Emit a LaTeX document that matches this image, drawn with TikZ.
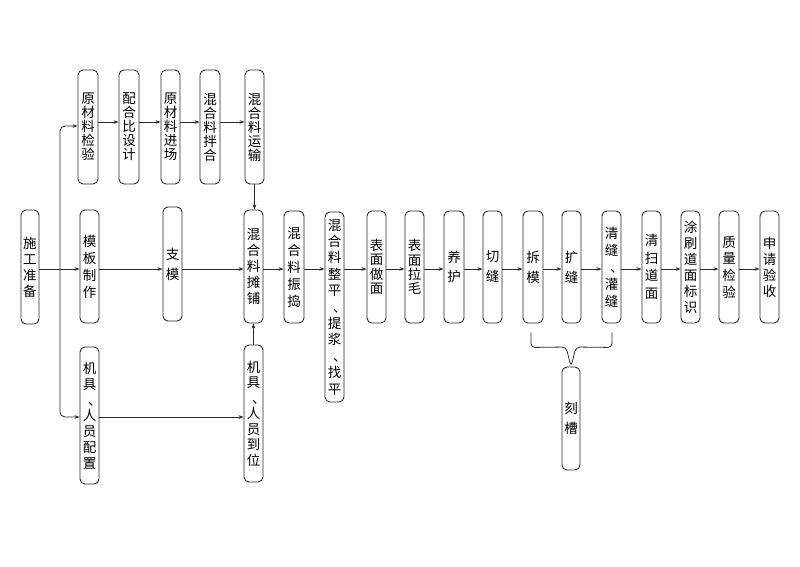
\documentclass[tikz,border=0pt]{standalone}
\usepackage{fontspec}
\newfontfamily\cjk{Noto Sans CJK SC}
\usetikzlibrary{arrows.meta,calc}
\definecolor{ln}{HTML}{2A2A2A}
\newcommand{\dun}{\hbox to 1em{\hskip0.4em\relax 、\hss}}
\tikzset{
  box/.style={draw=ln, line width=0.9pt, rounded corners=5pt, minimum width=19pt, inner sep=0pt, align=center, text=black},
  vs/.style={font=\cjk\fontsize{13.5}{#1}\selectfont},
  vs/.default=16,
  arr/.style={draw=ln, line width=0.8pt, -{Stealth[length=5pt,width=3.6pt]}},
  plain/.style={draw=ln, line width=0.8pt}
}
\begin{document}
\begin{tikzpicture}[x=1pt,y=-1pt]
\useasboundingbox[fill=white] (0,0) rectangle (800,566);
% main row
\node[box,vs=16,minimum width=18pt,minimum height=114pt] (zb) at (30,267) {施\\工\\准\\备};
\node[box,vs=17,minimum height=113pt] (mb) at (89.5,266.5) {模\\板\\制\\作};
\node[box,vs=20,minimum height=114pt] (zm) at (172.5,264) {支\\模};
\node[box,vs=16,minimum height=113pt] (tp) at (253.5,266.5) {混\\合\\料\\摊\\铺};
\node[box,vs=17,minimum width=20pt,minimum height=112pt] (zd) at (294,267) {混\\合\\料\\振\\捣};
\node[box,vs=16.4,minimum height=190pt] (zp) at (334.5,307) {混\\合\\料\\整\\平\\\dun\\提\\浆\\\dun\\找\\平};
\node[box,vs=14.3,minimum height=112pt] (zmian) at (376.5,267) {表\\面\\做\\面};
\node[box,vs=14.3,minimum height=112pt] (lm) at (414.5,267) {表\\面\\拉\\毛};
\node[box,vs=19,minimum width=20pt,minimum height=112pt] (yh) at (454,267) {养\\护};
\node[box,vs=20,minimum height=112pt] (qf) at (492.5,267) {切\\缝};
\node[box,vs=20,minimum width=20pt,minimum height=112pt] (cm) at (533,267) {拆\\模};
\node[box,vs=20,minimum height=112pt] (kf) at (571.5,267) {扩\\缝};
\node[box,vs=17,minimum height=112pt] (qgf) at (611.5,267) {清\\缝\\\dun\\灌\\缝};
\node[box,vs=17.7,minimum height=112pt] (qs) at (651.5,267) {清\\扫\\道\\面};
\node[box,vs=16,minimum height=112pt] (ts) at (690.5,267) {涂\\刷\\道\\面\\标\\识};
\node[box,vs=16.6,minimum width=20pt,minimum height=112pt] (zl) at (729,267) {质\\量\\检\\验};
\node[box,vs=16,minimum height=112pt] (sq) at (769.5,267) {申\\请\\验\\收};
\node[box,vs=20,minimum width=18pt,minimum height=103pt] (kc) at (571,418.5) {刻\\槽};
% top row
\node[box,vs=14,minimum width=20pt,minimum height=114pt] (yj) at (88,127) {原\\材\\料\\检\\验};
\node[box,vs=14,minimum width=20pt,minimum height=114pt] (ph) at (129,127) {配\\合\\比\\设\\计};
\node[box,vs=14,minimum height=114pt] (yc) at (170.5,127) {原\\材\\料\\进\\场};
\node[box,vs=14,minimum width=20pt,minimum height=114pt] (bh) at (210,127) {混\\合\\料\\拌\\合};
\node[box,vs=14,minimum height=114pt] (ys) at (254.5,127) {混\\合\\料\\运\\输};
% bottom row
\node[box,vs=15.8,minimum height=137pt] (jp) at (89.5,415.5) {机\\具\\\dun\\人\\员\\配\\置};
\node[box,vs=15.5,minimum height=137pt] (jd) at (253.5,413.5) {机\\具\\\dun\\人\\员\\到\\位};
% helper coordinates
\coordinate (m) at (0,269);
\coordinate (t) at (0,122);
\coordinate (b) at (0,417);
\coordinate (sp) at (60,269);
% main arrows
\draw[arr] (zb.east |- m) -- (mb.west |- m);
\draw[arr] (mb.east |- m) -- (zm.west |- m);
\draw[arr] (zm.east |- m) -- (tp.west |- m);
\draw[arr] (tp.east |- m) -- (zd.west |- m);
\draw[arr] (zd.east |- m) -- (zp.west |- m);
\draw[arr] (zp.east |- m) -- (zmian.west |- m);
\draw[arr] (zmian.east |- m) -- (lm.west |- m);
\draw[arr] (lm.east |- m) -- (yh.west |- m);
\draw[arr] (yh.east |- m) -- (qf.west |- m);
\draw[arr] (qf.east |- m) -- (cm.west |- m);
\draw[arr] (cm.east |- m) -- (kf.west |- m);
\draw[arr] (kf.east |- m) -- (qgf.west |- m);
\draw[arr] (qgf.east |- m) -- (qs.west |- m);
\draw[arr] (qs.east |- m) -- (ts.west |- m);
\draw[arr] (ts.east |- m) -- (zl.west |- m);
\draw[arr] (zl.east |- m) -- (sq.west |- m);
% top arrows
\draw[arr] (yj.east |- t) -- (ph.west |- t);
\draw[arr] (ph.east |- t) -- (yc.west |- t);
\draw[arr] (yc.east |- t) -- (bh.west |- t);
\draw[arr] (bh.east |- t) -- (ys.west |- t);
\draw[arr] (ys.south) -- (ys.south |- tp.north);
% spine
\draw[arr, rounded corners=5pt] (sp) |- ($(yj.west)+(0,-1)$);
\draw[arr, rounded corners=5pt] (sp) |- (jp.west |- b);
% bottom
\draw[arr] (jp.east |- b) -- (jd.west |- b);
\draw[arr] (jd.north) -- (tp.south);
% brace
\draw[plain, rounded corners=4pt] ($(cm.south)+(-2,9)$) -- ($(cm.south)+(-2,24)$) -- (566,347) -- (kc.north) -- (576,347) -- ($(qgf.south)+(0.5,24)$) -- ($(qgf.south)+(0.5,9)$);
\end{tikzpicture}
\end{document}
